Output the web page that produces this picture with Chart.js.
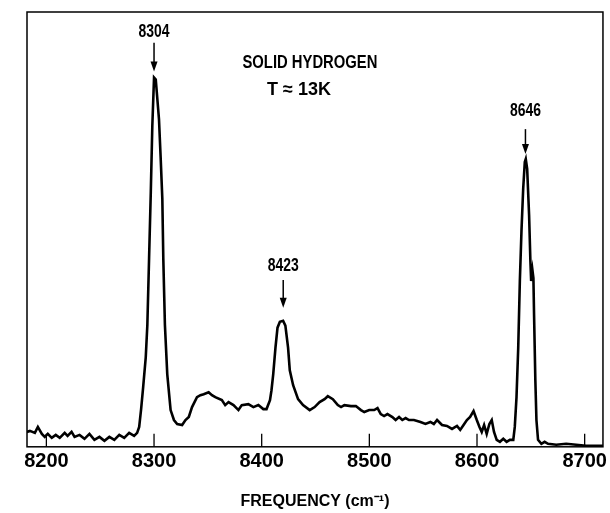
<!DOCTYPE html>
<html lang="en">
  <head>
    <meta charset="UTF-8" />
    <script src="https://cdn.jsdelivr.net/npm/chart.js@4.4.0/dist/chart.umd.min.js"></script>
    <title>Solid hydrogen spectrum</title>
    <style>
      body { margin: 0; background: #fff; }
    </style>
  </head>
  <body>
    <canvas id="myChart" width="610" height="513"></canvas>
    <script>
      // frequency (cm-1)
      const freq = [
        8181.9, 8184.7, 8189.3, 8192.1, 8195.8, 8198.5, 8201.3, 8205, 8208.7, 8212.4,
        8217, 8219.7, 8223.4, 8226.2, 8230.8, 8235.4, 8240, 8244.6, 8249.3, 8253.9,
        8258.5, 8263.1, 8267.7, 8272.3, 8276.9, 8281.5, 8284.3, 8286.2, 8288, 8289.9,
        8292.3, 8293.8, 8295.4, 8297, 8298.4, 8300, 8301.6, 8304.6, 8306.2, 8307.7,
        8308.6, 8310.1, 8312.3, 8315.4, 8318.5, 8321.5, 8326.1, 8329.2, 8332.3, 8335.3,
        8339.9, 8343.1, 8346.1, 8350.7, 8353.8, 8356.9, 8363, 8366.1, 8369.2, 8373.8,
        8378.4, 8381.5, 8387.6, 8392.3, 8396.9, 8401.5, 8404.5, 8407.7, 8409.1, 8410.7,
        8412.8, 8414.7, 8416.9, 8419.9, 8422, 8424.5, 8426.1, 8429.2, 8433.8, 8438.4,
        8444.6, 8449.2, 8453.8, 8458.4, 8461.4, 8466.1, 8470.7, 8473.7, 8476.8, 8482.9,
        8487.5, 8492.2, 8495.3, 8499.9, 8504.5, 8507.6, 8510.6, 8513.7, 8516.8, 8521.4,
        8524.4, 8527.6, 8530.6, 8533.7, 8536.8, 8541.4, 8547.5, 8552.1, 8556.7, 8559.9,
        8562.9, 8567.5, 8572.1, 8576.8, 8581.4, 8584.4, 8587.5, 8590.6, 8593.6, 8596.8,
        8599.8, 8602.3, 8604.4, 8606.6, 8609, 8611.5, 8613.7, 8615.8, 8618.3, 8621.3,
        8624.4, 8627.5, 8630.5, 8633.7, 8635.1, 8636.7, 8638.3, 8639.8, 8641.3, 8642.9,
        8644.4, 8645.3, 8646.6, 8648.4, 8649.6, 8650.3, 8651.5, 8652.4, 8653, 8654.2,
        8655.2, 8656.7, 8659.8, 8662.8, 8666, 8673.6, 8682.8, 8692.1, 8701.3, 8717
      ];
      // intensity (arbitrary units)
      const intensity = [
        15, 16, 14, 20, 13, 10, 13, 9, 12, 9,
        14, 11, 15, 10, 12, 8, 13, 7, 10, 6,
        10, 7, 12, 9, 14, 11, 14, 20, 38, 60,
        90, 123, 190, 257, 323, 372, 370, 330, 290, 250,
        190, 123, 73, 37, 27, 23, 22, 27, 30, 40,
        50, 52, 53, 55, 52, 50, 47, 42, 45, 42,
        37, 42, 43, 40, 42, 38, 38, 47, 57, 73,
        100, 120, 126, 127, 122, 100, 77, 62, 48, 42,
        37, 40, 45, 48, 51, 48, 42, 40, 42, 41,
        41, 37, 35, 37, 37, 39, 33, 31, 33, 30,
        27, 30, 27, 29, 27, 27, 25, 23, 25, 23,
        27, 22, 21, 18, 21, 17, 22, 27, 30, 36,
        27, 20, 15, 22, 13, 23, 27, 15, 7, 5,
        8, 5, 7, 7, 20, 50, 100, 167, 217, 260,
        287, 290, 280, 233, 187, 167, 178, 170, 133, 67,
        27, 7, 3, 5, 3, 2, 3, 2, 1, 1
      ];
      const tickValues = [8200, 8300, 8400, 8500, 8600, 8700];

      // peak markers: label, x position, label y, arrow from / to
      const peakLabels = ["8304", "8423", "8646"];
      const peakX = [8300, 8420, 8645];
      const peakTextY = [418, 182, 338];
      const peakArrowTop = [407, 168, 320];
      const peakArrowTip = [378, 140, 295];

      const noteLines = ["SOLID HYDROGEN", "T \u2248 13K"];
      const noteX = [8444.8, 8434.7];
      const noteY = [387, 359];
      const noteWidth = [135, 68];

      const fontFamily = "'Liberation Sans Narrow', 'Liberation Sans', Arial, sans-serif";

      var framePlugin = {
        id: "frame",
        afterDatasetsDraw(chart) {
          const ctx = chart.ctx;
          const a = chart.chartArea;
          const xs = chart.scales.x;
          const ys = chart.scales.y;
          ctx.save();
          ctx.strokeStyle = "#000";
          ctx.lineWidth = 1.5;
          ctx.strokeRect(a.left, a.top, a.right - a.left, a.bottom - a.top);
          // inward ticks
          ctx.lineWidth = 1.3;
          tickValues.forEach((v) => {
            const px = xs.getPixelForValue(v);
            ctx.beginPath();
            ctx.moveTo(px, a.bottom);
            ctx.lineTo(px, a.bottom - 13);
            ctx.stroke();
          });
          // peak labels and arrows
          ctx.fillStyle = "#000";
          ctx.textAlign = "center";
          ctx.textBaseline = "middle";
          ctx.font = "bold 18px " + fontFamily;
          for (let i = 0; i < peakLabels.length; i++) {
            const px = xs.getPixelForValue(peakX[i]);
            ctx.fillText(peakLabels[i], px, ys.getPixelForValue(peakTextY[i]), 31);
            const y1 = ys.getPixelForValue(peakArrowTop[i]);
            const y2 = ys.getPixelForValue(peakArrowTip[i]);
            ctx.lineWidth = 1.5;
            ctx.beginPath();
            ctx.moveTo(px, y1);
            ctx.lineTo(px, y2 - 8);
            ctx.stroke();
            ctx.beginPath();
            ctx.moveTo(px - 3.5, y2 - 10);
            ctx.lineTo(px + 3.5, y2 - 10);
            ctx.lineTo(px, y2);
            ctx.closePath();
            ctx.fill();
          }
          for (let i = 0; i < noteLines.length; i++) {
            ctx.fillText(
              noteLines[i],
              xs.getPixelForValue(noteX[i]),
              ys.getPixelForValue(noteY[i]),
              noteWidth[i]
            );
          }
          ctx.restore();
        },
      };

      var points = freq.map((f, i) => ({ x: f, y: intensity[i] }));

      var config = {
        type: "line",
        data: {
          datasets: [
            {
              data: points,
              borderColor: "#000",
              borderWidth: 2.6,
              pointRadius: 0,
              tension: 0,
              fill: false,
            },
          ],
        },
        options: {
          responsive: false,
          animation: false,
          layout: { padding: { left: 27, right: 3, top: 12, bottom: 2 } },
          plugins: {
            legend: { display: false },
            tooltip: { enabled: false },
          },
          scales: {
            x: {
              type: "linear",
              min: 8182,
              max: 8717,
              afterBuildTicks: (axis) => {
                axis.ticks = tickValues.map((v) => ({ value: v }));
              },
              grid: { display: false, drawTicks: false },
              border: { display: false },
              ticks: {
                color: "#000",
                padding: 3,
                maxRotation: 0,
                font: { family: fontFamily, size: 20, weight: "bold" },
                callback: (v) => String(v),
              },
              title: {
                display: true,
                text: "FREQUENCY (cm\u207B\u00B9)",
                color: "#000",
                padding: { top: 15, bottom: 0 },
                font: { family: fontFamily, size: 16, weight: "bold" },
              },
            },
            y: {
              display: false,
              min: 0,
              max: 438,
            },
          },
        },
        plugins: [framePlugin],
      };

      new Chart(document.getElementById("myChart"), config);
    </script>
  </body>
</html>
